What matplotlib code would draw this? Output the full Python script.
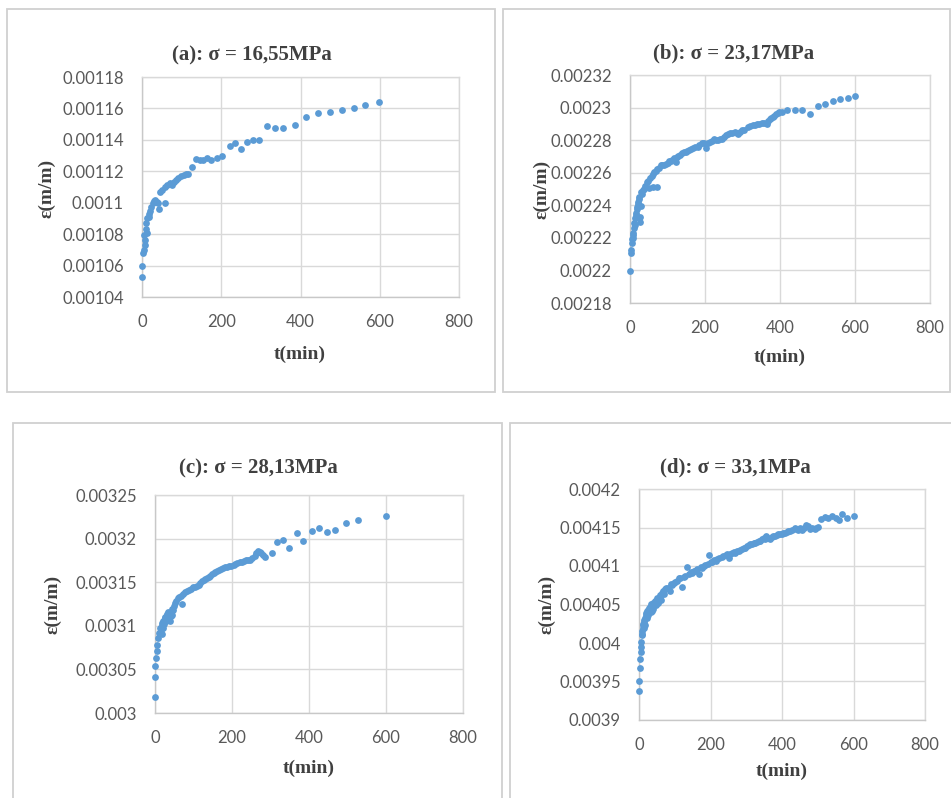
import numpy as np
import matplotlib
matplotlib.use('Agg')
import matplotlib.pyplot as plt
from matplotlib.patches import Rectangle
from matplotlib.ticker import FuncFormatter

# ---------------- data (strain values in units of 1e-5 m/m) ----------------
titles = ["(a): σ = 16,55MPa", "(b): σ = 23,17MPa", "(c): σ = 28,13MPa", "(d): σ = 33,1MPa"]
x_label = "t(min)"
y_label = "ε(m/m)"
x_ticks = [0, 200, 400, 600, 800]
y_ticks_a = [0.00104, 0.00106, 0.00108, 0.00110, 0.00112, 0.00114, 0.00116, 0.00118]
y_ticks_b = [0.00218, 0.00220, 0.00222, 0.00224, 0.00226, 0.00228, 0.00230, 0.00232]
y_ticks_c = [0.00300, 0.00305, 0.00310, 0.00315, 0.00320, 0.00325]
y_ticks_d = [0.00390, 0.00395, 0.00400, 0.00405, 0.00410, 0.00415, 0.00420]

t_a = [0, 0, 1.5, 4, 6.7, 8, 6, 12, 9, 11, 13, 17, 18, 21, 23.5, 27, 30, 34, 37, 40,
       42, 59, 46, 50, 57, 64, 70, 76, 80, 86, 92, 99, 105, 111, 116, 126, 136, 147, 155, 164,
       175, 189, 203, 221, 235, 250, 266, 281, 295, 315, 336, 355, 385, 414, 444, 475, 504, 534, 563, 599]
eps_a = [105.28, 105.96, 106.8, 107.0, 107.3, 107.6, 107.96, 108.06, 108.3, 108.7,
         109.0, 109.1, 109.3, 109.5, 109.75, 109.96, 110.1, 110.2, 110.06, 109.96,
         109.6, 109.96, 110.7, 110.84, 110.97, 111.1, 111.26, 111.1, 111.3, 111.47,
         111.6, 111.7, 111.75, 111.8, 111.8, 112.27, 112.76, 112.7, 112.74, 112.84,
         112.74, 112.84, 113.0, 113.64, 113.8, 113.43, 113.85, 114.0, 113.96, 114.9,
         114.76, 114.74, 114.97, 115.47, 115.68, 115.8, 115.9, 116.0, 116.23, 116.38]

t_b = [0, 2.7, 3, 5, 7, 9, 10, 11.5, 14, 16, 18, 20, 23, 26.5, 27, 29, 32, 35, 41, 44,
       51, 62, 71, 58, 65, 73, 82, 91, 100, 109, 118, 122, 129, 138, 149, 158, 168, 180, 191, 202,
       212, 224, 235, 246, 257, 267, 279, 288, 299, 314, 327, 339, 352, 364, 372, 381, 389, 398, 419, 439,
       458, 481, 501, 520, 542, 561, 580, 600]
eps_b = [219.98, 221.1, 221.27, 221.67, 222.0, 222.3, 222.6, 222.9, 223.2, 223.5,
         223.8, 224.1, 224.4, 223.0, 223.3, 223.96, 224.7, 224.94, 225.2, 225.45,
         225.04, 225.1, 225.1, 225.8, 226.06, 226.2, 226.47, 226.5, 226.6, 226.73,
         226.9, 226.67, 227.0, 227.2, 227.3, 227.4, 227.5, 227.6, 227.8, 227.5,
         227.9, 228.04, 228.0, 228.1, 228.3, 228.45, 228.5, 228.4, 228.6, 228.78,
         228.9, 228.98, 229.06, 229.0, 229.27, 229.43, 229.6, 229.73, 229.84, 229.88,
         229.88, 229.6, 230.1, 230.24, 230.4, 230.5, 230.57, 230.7]
t_b2 = [5.5, 8, 12, 15, 19, 22, 25, 30, 38, 47, 54, 61, 68, 77, 86, 95, 104, 113, 125, 133,
        143, 153, 163, 174, 185, 196, 207, 218, 229, 240, 251, 262, 273, 284, 294, 305, 320, 333, 345, 358,
        368, 376, 385, 394, 404]
eps_b2 = [221.9, 222.2, 222.8, 223.4, 223.9, 224.2, 224.5, 224.8, 225.0, 225.5,
          225.7, 225.9, 226.1, 226.3, 226.5, 226.55, 226.7, 226.8, 226.95, 227.1,
          227.25, 227.35, 227.45, 227.55, 227.7, 227.85, 227.85, 227.95, 228.0, 228.05,
          228.2, 228.4, 228.45, 228.45, 228.5, 228.65, 228.85, 228.95, 229.0, 229.05,
          229.15, 229.35, 229.5, 229.65, 229.75]

t_c = [0, 0, 0, 2, 4, 6, 9, 11, 15, 19, 17, 21.5, 26, 30, 34, 39, 41, 36, 47, 52,
       59, 69, 67, 78, 88, 99, 110, 116, 122, 131, 140, 148, 157, 166, 177, 188, 198, 209, 220, 231,
       241, 252, 259, 267, 276, 286, 303, 317, 332, 349, 368, 385, 407, 427, 448, 467, 497, 526, 600]
eps_c = [301.83, 304.08, 305.34, 306.3, 307.06, 307.8, 308.6, 309.16, 309.5, 309.05,
         310.1, 310.5, 310.9, 311.26, 311.56, 310.5, 311.07, 310.7, 311.83, 312.6,
         313.17, 312.48, 313.47, 313.85, 314.1, 314.4, 314.6, 314.9, 315.15, 315.38,
         315.65, 315.9, 316.2, 316.4, 316.6, 316.8, 316.9, 317.06, 317.3, 317.45,
         317.56, 317.75, 318.0, 318.6, 318.3, 317.9, 318.3, 319.6, 319.85, 318.97,
         320.6, 319.77, 320.9, 321.26, 320.8, 321.0, 321.83, 322.1, 322.6]
t_c2 = [13, 18, 20, 23, 25, 28, 32, 35, 38, 43, 45, 50, 55, 63, 73, 83, 93, 104, 113, 126,
        135, 144, 152, 161, 171, 182, 193, 204, 214, 225, 236, 246, 263, 272, 281]
eps_c2 = [309.8, 310.3, 309.8, 310.2, 311.0, 310.6, 311.3, 311.0, 311.5, 311.2,
          311.9, 312.3, 312.9, 313.3, 313.6, 313.95, 314.25, 314.5, 314.7, 315.2,
          315.5, 315.75, 316.0, 316.3, 316.5, 316.7, 316.85, 317.0, 317.15, 317.35,
          317.5, 317.6, 318.3, 318.5, 318.1]

t_d = [0, 0, 2, 4, 5, 5, 6.5, 7.5, 9, 11, 14, 17, 18.6, 23, 28, 32.5, 37, 42, 46.5, 54,
       57.6, 65, 72.5, 82, 85.6, 93, 102, 112, 119, 126, 135, 141, 149, 158, 169, 177, 186, 197, 205, 219,
       231, 242, 251, 260, 274, 288, 302, 316, 330, 344, 355, 367, 381, 395, 409, 423, 435, 446, 456, 467,
       479, 491, 500, 510, 521, 530, 540, 551, 560, 567, 581, 600]
eps_d = [393.8, 395.1, 396.8, 397.9, 398.8, 399.46, 400.1, 400.98, 401.6, 402.3,
         402.7, 403.2, 403.7, 404.1, 404.5, 404.0, 404.2, 404.9, 405.4, 405.2,
         405.97, 406.5, 407.06, 407.1, 406.8, 407.5, 407.9, 408.4, 407.3, 408.6,
         409.9, 408.9, 409.1, 409.3, 409.0, 409.75, 410.1, 411.4, 410.5, 410.9,
         411.2, 411.4, 411.05, 411.66, 411.9, 412.27, 412.57, 412.87, 413.1, 413.5,
         413.9, 413.57, 413.9, 414.1, 414.35, 414.57, 414.96, 414.65, 414.74, 415.3,
         414.78, 414.87, 415.09, 416.08, 416.4, 416.26, 416.48, 416.17, 415.95, 416.8,
         416.26, 416.5]
t_d2 = [8, 10, 12, 13, 15, 16, 20, 21, 25, 26, 30, 31, 34, 36, 39, 40, 44, 48, 50, 52,
        56, 60, 62, 68, 70, 76, 90, 97, 107, 116, 130, 145, 154, 163, 173, 182, 192, 201, 210, 214,
        224, 236, 246, 255, 265, 269, 279, 283, 293, 297, 307, 311, 321, 325, 335, 339, 349, 352, 360, 372,
        376, 386, 390, 400, 404, 414, 418, 428, 440, 451, 462, 474, 485, 495]
eps_d2 = [401.2, 402.0, 402.5, 401.9, 403.0, 402.4, 403.9, 403.3, 404.3, 403.6,
          404.7, 404.2, 405.0, 404.6, 405.2, 404.4, 405.5, 404.9, 405.8, 405.3,
          405.6, 406.2, 405.6, 406.8, 406.3, 407.2, 407.6, 407.8, 408.1, 408.5,
          408.7, 409.2, 409.4, 409.6, 409.9, 410.0, 410.3, 410.5, 410.8, 410.7,
          411.0, 411.3, 411.5, 411.5, 411.8, 411.7, 412.0, 412.1, 412.4, 412.4,
          412.7, 412.8, 413.0, 413.0, 413.3, 413.3, 413.6, 413.5, 413.7, 413.8,
          413.9, 414.0, 414.1, 414.2, 414.3, 414.4, 414.5, 414.7, 414.8, 414.9,
          415.0, 415.2, 414.9, 415.0]

# ---------------- layout ----------------
W, H = 951, 798
fig = plt.figure(figsize=(W / 100, H / 100), dpi=100)
fig.patch.set_facecolor('white')

def fig_xy(x, y):
    return x / W, 1 - y / H

frames = [(7, 9, 495, 392), (503, 9, 950, 392), (13, 423, 502, 805), (510, 423, 955, 805)]
for (l, t, r, b) in frames:
    fig.patches.append(Rectangle(fig_xy(l, b), (r - l) / W, (b - t) / H,
                                 transform=fig.transFigure, fill=False,
                                 edgecolor='#d0d0d0', lw=1.3, zorder=0))

panels = [
    dict(rect=(142, 77, 459, 297), t=[t_a], e=[eps_a], yt=y_ticks_a, title=titles[0],
         tpos=(252, 55), xl=(300, 354), yl=(47, 188)),
    dict(rect=(630, 75, 930, 303), t=[t_b, t_b2], e=[eps_b, eps_b2], yt=y_ticks_b, title=titles[1],
         tpos=(734, 53), xl=(780, 357), yl=(542, 189)),
    dict(rect=(155, 495, 463, 713), t=[t_c, t_c2], e=[eps_c, eps_c2], yt=y_ticks_c, title=titles[2],
         tpos=(258, 468), xl=(309, 768), yl=(53, 604)),
    dict(rect=(639, 489, 925, 720), t=[t_d, t_d2], e=[eps_d, eps_d2], yt=y_ticks_d, title=titles[3],
         tpos=(735, 467), xl=(782, 771), yl=(547, 604)),
]

def yfmt(v, pos):
    return f"{v:.5f}".rstrip('0').rstrip('.')

serif = 'Liberation Serif'
tick_font = 'Lato'
dark = '#404040'
grid_c = '#d9d9d9'
dot_c = '#5b9bd5'

for p in panels:
    l, t, r, b = p['rect']
    ax = fig.add_axes([l / W, 1 - b / H, (r - l) / W, (b - t) / H])
    for tt, ee in zip(p['t'], p['e']):
        ax.scatter(tt, np.array(ee) * 1e-5, s=24, color=dot_c, linewidths=0,
                   zorder=3, clip_on=False)
    ax.set_xlim(0, 800)
    ax.set_ylim(p['yt'][0], p['yt'][-1])
    ax.set_xticks(x_ticks)
    ax.set_yticks(p['yt'])
    ax.yaxis.set_major_formatter(FuncFormatter(yfmt))
    ax.grid(True, color=grid_c, lw=1.0, zorder=0)
    ax.set_axisbelow(True)
    for s in ax.spines.values():
        s.set_color(grid_c)
        s.set_linewidth(1.0)
    ax.spines['left'].set_color('#c8c8c8')
    ax.spines['bottom'].set_color('#c8c8c8')
    ax.tick_params(length=0, labelsize=12, labelcolor='#595959')
    ax.tick_params(axis='x', pad=12)
    ax.tick_params(axis='y', pad=13)
    for lab in ax.get_xticklabels() + ax.get_yticklabels():
        lab.set_fontfamily(tick_font)
    tx, ty = fig_xy(*p['tpos'])
    fig.text(tx, ty, p['title'], ha='center', va='center', fontsize=15,
             fontweight='bold', family=serif, color=dark)
    xx, xy = fig_xy(*p['xl'])
    fig.text(xx, xy, x_label, ha='center', va='center', fontsize=14,
             fontweight='bold', family=serif, color=dark)
    yx, yy = fig_xy(*p['yl'])
    fig.text(yx, yy, y_label, ha='center', va='center', fontsize=14,
             fontweight='bold', family=serif, color=dark, rotation=90)

fig.savefig('out.png', dpi=100, facecolor='white')
